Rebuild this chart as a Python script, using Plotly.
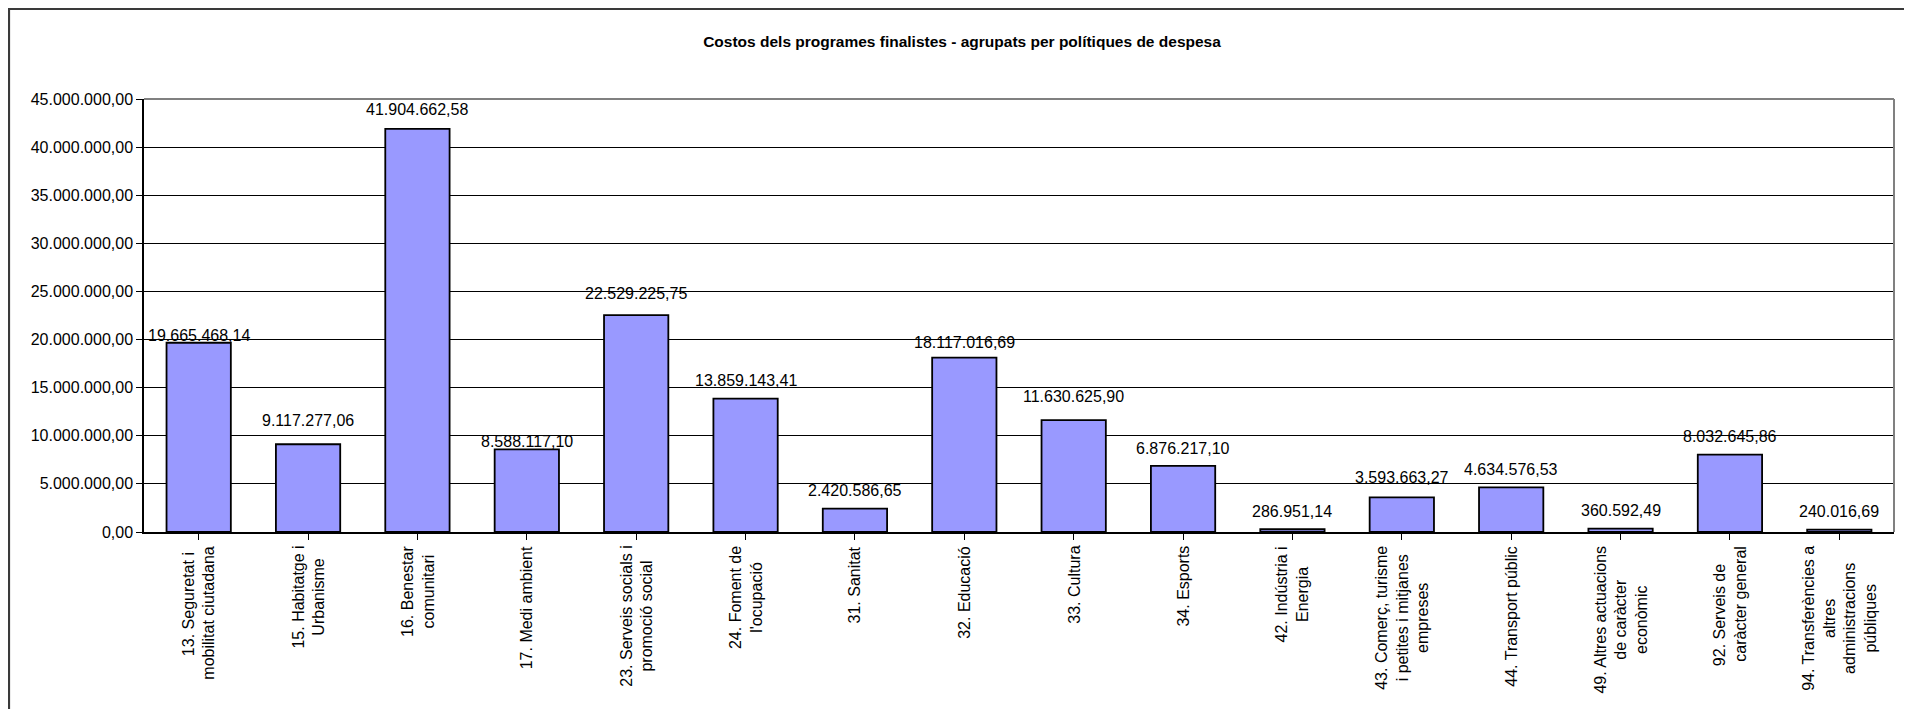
import plotly.graph_objects as go

title_text = "Costos dels programes finalistes - agrupats per polítiques de despesa"

categories = [
    "&nbsp;&nbsp;&nbsp;&nbsp;13. Seguretat i<br>mobilitat ciutadana",
    "15. Habitatge i<br>Urbanisme",
    "16. Benestar<br>comunitari",
    "17. Medi ambient",
    "23. Serveis socials i<br>promoció social",
    "24. Foment de<br>l'ocupació",
    "31. Sanitat",
    "32. Educació",
    "33. Cultura",
    "34. Esports",
    "42. Indústria i<br>Energia",
    "43. Comerç, turisme<br>i petites i mitjanes<br>empreses",
    "44. Transport públic",
    "49. Altres actuacions<br>de caràcter<br>econòmic",
    "92. Serveis de<br>&nbsp;&nbsp;&nbsp;&nbsp;&nbsp;caràcter general",
    "94. Transferències a<br>altres<br>administracions<br>públiques",
]

values = [
    19665468.14, 9117277.06, 41904662.58, 8588117.10, 22529225.75,
    13859143.41, 2420586.65, 18117016.69, 11630625.90, 6876217.10,
    286951.14, 3593663.27, 4634576.53, 360592.49, 8032645.86, 240016.69,
]

y_ticks = [0, 5e6, 10e6, 15e6, 20e6, 25e6, 30e6, 35e6, 40e6, 45e6]

# style: vertical gap (px) between bar top and value-label centre, as in the reference
label_gap = [7, 24, 19, 8, 22, 18, 18, 15, 24, 17, 18, 20, 18, 18, 18, 18]


def fmt(v):
    s = f"{v:,.2f}"
    return s.replace(",", "X").replace(".", ",").replace("X", ".")


FONT = "Liberation Sans, Arial, sans-serif"
FS = 16
W, H = 1912, 709
# page body has an 8px margin, so figure coords = screen coords - 8
L, R, T = 136, 26, 91
plot_bottom = 524
B = H - plot_bottom
pw, ph = W - L - R, plot_bottom - T

fig = go.Figure()
fig.add_trace(go.Bar(
    x=list(range(len(categories))),
    y=values,
    marker=dict(color="#9999FF", line=dict(color="#000000", width=1.8)),
    width=0.588,
    hoverinfo="skip",
))

for i, v in enumerate(values):
    fig.add_annotation(
        x=i, y=v, xref="x", yref="y",
        text=fmt(v), showarrow=False,
        xanchor="center", yanchor="middle", yshift=label_gap[i],
        font=dict(family=FONT, size=FS, color="#000000"),
    )

for i, c in enumerate(categories):
    fig.add_annotation(
        x=i, y=0, xref="x", yref="paper",
        text=c, textangle=-90, showarrow=False,
        xanchor="center", yanchor="top", align="center",
        yshift=-12,
        font=dict(family=FONT, size=FS, color="#000000"),
    )

# outer chart border (extends beyond visible area on right/bottom)
fig.add_shape(type="rect", xref="paper", yref="paper",
              x0=(1 - L) / pw, x1=(W + 20 - L) / pw,
              y0=-(B + 20) / ph, y1=(plot_bottom - 1) / ph,
              line=dict(color="#3a3a3a", width=2.2), layer="above")
# plot area border top and right (gray)
fig.add_shape(type="line", xref="paper", yref="paper", x0=0, x1=1, y0=1, y1=1,
              line=dict(color="#808080", width=2), layer="above")
fig.add_shape(type="line", xref="paper", yref="paper", x0=1, x1=1, y0=0, y1=1,
              line=dict(color="#808080", width=2), layer="above")

fig.update_layout(
    width=W, height=H,
    margin=dict(l=L, r=R, t=T, b=B, pad=0),
    paper_bgcolor="#ffffff", plot_bgcolor="#ffffff",
    separators=",.",
    showlegend=False,
    font=dict(family=FONT, size=FS, color="#000000"),
    title=dict(text="<b>" + title_text + "</b>", x=954 / W, xref="container",
               xanchor="center", y=1 - 33.5 / H, yanchor="middle",
               font=dict(family=FONT, size=15.5, color="#000000")),
    bargap=0.412,
    xaxis=dict(
        range=[-0.5, len(categories) - 0.5],
        tickmode="array", tickvals=list(range(len(categories))),
        ticktext=[""] * len(categories),
        tickson="boundaries", ticks="outside", ticklen=6, tickcolor="#000000",
        showline=True, linecolor="#000000", linewidth=1.5,
        showgrid=False, zeroline=False,
    ),
    yaxis=dict(
        range=[0, 45e6], tickmode="array", tickvals=y_ticks,
        tickformat=",.2f",
        ticks="outside", ticklen=6, tickcolor="#000000",
        showline=True, linecolor="#000000", linewidth=1.5,
        showgrid=True, gridcolor="#000000", gridwidth=1,
        zeroline=False,
        tickfont=dict(family=FONT, size=FS, color="#000000"),
    ),
)

fig.write_html("out.html")
